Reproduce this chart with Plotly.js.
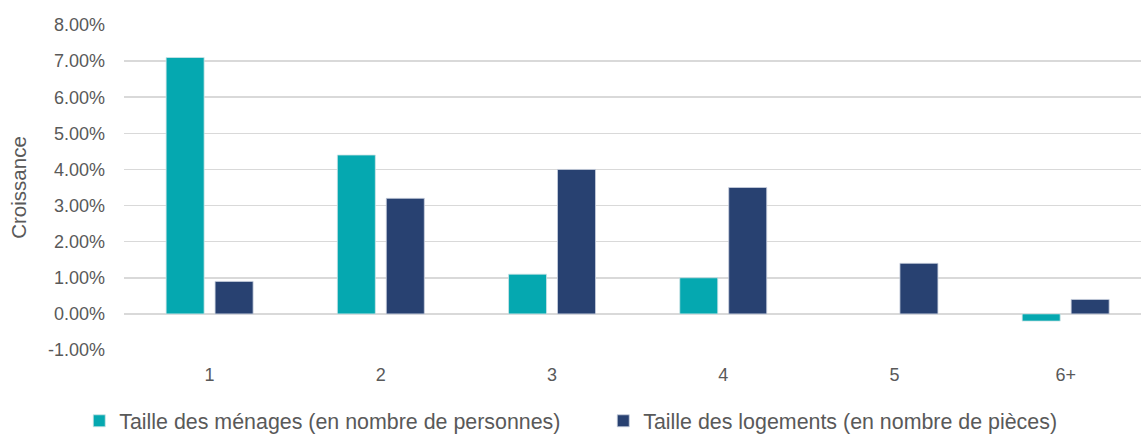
<!DOCTYPE html>
<html>
<head>
<meta charset="utf-8">
<script src="https://cdn.plot.ly/plotly-3.0.1.min.js"></script>
<style>html,body{margin:0;padding:0;background:#fff;}#chart{width:1141px;height:434px;}</style>
</head>
<body>
<div id="chart"></div>
<script>
var categories = ["1", "2", "3", "4", "5", "6+"];
var menages = [7.1, 4.4, 1.1, 1.0, null, -0.2];
var logements = [0.9, 3.2, 4.0, 3.5, 1.4, 0.4];
var seriesNames = ["Taille des ménages (en nombre de personnes)", "Taille des logements (en nombre de pièces)"];
var yTickVals = [-1, 0, 1, 2, 3, 4, 5, 6, 7, 8];
var yTickText = ["-1.00%", "0.00%", "1.00%", "2.00%", "3.00%", "4.00%", "5.00%", "6.00%", "7.00%", "8.00%"];

var font = "Liberation Sans, Arial, sans-serif";
var grey = "#595959";

var traces = [
  {type: "bar", name: seriesNames[0], x: categories, y: menages,
   marker: {color: "#05A8B0", line: {color: "#cfe3e6", width: 0.8}}, hoverinfo: "none"},
  {type: "bar", name: seriesNames[1], x: categories, y: logements,
   marker: {color: "#284171", line: {color: "#c9d1de", width: 0.8}}, hoverinfo: "none"}
];

var layout = {
  width: 1141, height: 434,
  margin: {l: 124, r: 0, t: 25, b: 84, pad: 0, autoexpand: false},
  paper_bgcolor: "#fff", plot_bgcolor: "#fff",
  font: {family: font, color: grey, size: 18},
  barmode: "group",
  bargap: 0.428,
  bargroupgap: 0.224,
  xaxis: {
    type: "category", range: [-0.5, 5.44], showgrid: false, zeroline: false,
    showline: false, ticks: "", ticklabelstandoff: 12,
    tickfont: {size: 18, color: grey}, fixedrange: true, automargin: false
  },
  yaxis: {
    range: [-1, 8], tickvals: yTickVals, ticktext: yTickText,
    showgrid: true, gridcolor: "#d9d9d9", gridwidth: 1.5,
    zeroline: true, zerolinecolor: "#d9d9d9", zerolinewidth: 1.5,
    showline: false, ticks: "", ticklabelstandoff: 18,
    tickfont: {size: 18, color: grey},
    title: {text: "Croissance", font: {size: 20.5, color: grey}, standoff: 15},
    automargin: false, fixedrange: true
  },
  showlegend: true,
  legend: {
    orientation: "h", x: -0.044, xanchor: "left", y: -0.155, yanchor: "top",
    font: {size: 21.4, color: grey}, entrywidth: 479, entrywidthmode: "pixels",
    bgcolor: "rgba(0,0,0,0)", traceorder: "normal"
  }
};

Plotly.newPlot("chart", traces, layout, {displayModeBar: false, staticPlot: true});
</script>
</body>
</html>
